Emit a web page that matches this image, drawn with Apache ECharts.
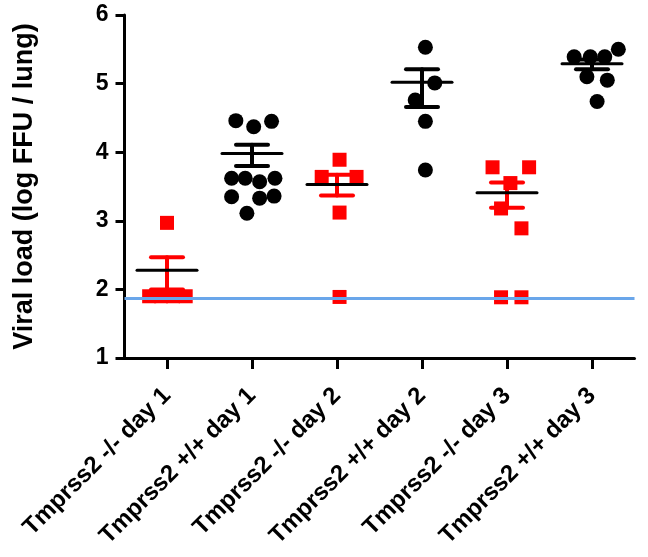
<!DOCTYPE html>
<html>
<head>
<meta charset="utf-8">
<script src="https://cdn.jsdelivr.net/npm/echarts@6/dist/echarts.min.js"></script>
<style>html,body{margin:0;padding:0;background:#fff;}#c{width:648px;height:557px;}</style>
</head>
<body>
<div id="c"></div>
<script>
const categories = ['Tmprss2 -/- day 1', 'Tmprss2 +/+ day 1', 'Tmprss2 -/- day 2', 'Tmprss2 +/+ day 2', 'Tmprss2 -/- day 3', 'Tmprss2 +/+ day 3'];
const yTicks = [1, 2, 3, 4, 5, 6];
const yName = 'Viral load (log FFU / lung)';

// individual animal values per group, with horizontal jitter (in category units)
const g1Values = [2.97, 1.9, 1.9, 1.9, 1.9];
const g1Jitter = [0, -0.21, -0.07, 0.07, 0.22];
const g2Values = [4.46, 4.37, 4.45, 3.62, 3.62, 3.57, 3.62, 3.35, 3.33, 3.36, 3.11];
const g2Jitter = [-0.19, 0.02, 0.23, -0.24, -0.08, 0.09, 0.27, -0.24, 0.09, 0.26, -0.06];
const g3Values = [3.89, 3.64, 3.64, 3.12, 1.89];
const g3Jitter = [0.03, -0.18, 0.23, 0.03, 0.03];
const g4Values = [5.53, 5.01, 4.76, 4.45, 3.74];
const g4Jitter = [0.04, 0.15, -0.08, 0.04, 0.04];
const g5Values = [3.78, 3.78, 3.55, 3.18, 2.89, 1.885, 1.885];
const g5Jitter = [-0.17, 0.26, 0.04, -0.07, 0.17, -0.07, 0.17];
const g6Values = [5.5, 5.39, 5.39, 5.39, 5.10, 5.05, 4.74];
const g6Jitter = [0.31, -0.21, -0.02, 0.15, -0.06, 0.18, 0.06];

// mean and error bar ends per group
const meanValues = [2.28, 3.98, 3.53, 5.02, 3.41, 5.29];
const errLow = [2.0, 3.80, 3.37, 4.66, 3.19, 5.21];
const errHigh = [2.47, 4.11, 3.67, 5.21, 3.56, 5.35];

// limit of detection
const lod = 1.87;

const RED = '#ff0000', BLACK = '#000000', BLUE = '#6aa6ea';
const FONT = "'Liberation Sans', Arial, sans-serif";

function pts(groupIdx, values, jitter) {
  return values.map((v, k) => [groupIdx + jitter[k], v]);
}
const redPoints = [].concat(pts(0, g1Values, g1Jitter), pts(2, g3Values, g3Jitter), pts(4, g5Values, g5Jitter));
const blackPoints = [].concat(pts(1, g2Values, g2Jitter), pts(3, g4Values, g4Jitter), pts(5, g6Values, g6Jitter));
const errData = meanValues.map((m, i) => [i, m, errLow[i], errHigh[i]]);

const chart = echarts.init(document.getElementById('c'), null, {renderer: 'canvas'});
chart.setOption({
  animation: false,
  backgroundColor: '#fff',
  grid: {left: 124.5, right: 13.5, top: 15, bottom: 199, containLabel: false, outerBoundsMode: 'none'},
  xAxis: [{
    type: 'category',
    data: categories,
    boundaryGap: true,
    axisLine: {show: true, onZero: false, lineStyle: {color: BLACK, width: 3}},
    axisTick: {show: true, alignWithLabel: true, length: 11, lineStyle: {color: BLACK, width: 3}},
    axisLabel: {rotate: 45, margin: 34, color: BLACK, fontWeight: 'bold', fontSize: 24, fontFamily: FONT, interval: 0},
    splitLine: {show: false}
  }, {
    type: 'value', min: -0.5, max: 5.5, show: false
  }],
  yAxis: {
    type: 'value', min: yTicks[0], max: yTicks[yTicks.length - 1], interval: 1,
    name: yName, nameLocation: 'middle', nameGap: 86, nameRotate: 90,
    nameTextStyle: {color: BLACK, fontWeight: 'bold', fontSize: 27, fontFamily: FONT},
    axisLine: {show: true, onZero: false, lineStyle: {color: BLACK, width: 3}},
    axisTick: {show: true, length: 9, lineStyle: {color: BLACK, width: 3}},
    axisLabel: {margin: 16, color: BLACK, fontWeight: 'bold', fontSize: 23, fontFamily: FONT},
    splitLine: {show: false}
  },
  series: [{
    type: 'scatter', xAxisIndex: 1, data: redPoints, symbol: 'rect', symbolSize: 14,
    itemStyle: {color: RED, opacity: 1}, z: 2
  }, {
    type: 'scatter', xAxisIndex: 1, data: blackPoints, symbol: 'circle', symbolSize: 15,
    itemStyle: {color: BLACK, opacity: 1}, z: 2
  }, {
    type: 'custom', xAxisIndex: 1, data: errData, z: 3,
    renderItem: function (params, api) {
      const i = api.value(0);
      const pm = api.coord([i, api.value(1)]);
      const pl = api.coord([i, api.value(2)]);
      const ph = api.coord([i, api.value(3)]);
      const col = (i % 2 === 0) ? RED : BLACK;
      const capW = 16, meanW = 30;
      const st = {stroke: col, lineWidth: 4, lineCap: 'round'};
      return {type: 'group', children: [
        {type: 'line', shape: {x1: pl[0], y1: pl[1], x2: ph[0], y2: ph[1]}, style: st},
        {type: 'line', shape: {x1: ph[0] - capW, y1: ph[1], x2: ph[0] + capW, y2: ph[1]}, style: st},
        {type: 'line', shape: {x1: pl[0] - capW, y1: pl[1], x2: pl[0] + capW, y2: pl[1]}, style: st},
        {type: 'line', shape: {x1: pm[0] - meanW, y1: pm[1], x2: pm[0] + meanW, y2: pm[1]}, style: {stroke: BLACK, lineWidth: 3, lineCap: 'round'}}
      ]};
    }
  }, {
    type: 'line', xAxisIndex: 1, data: [], z: 4,
    markLine: {silent: true, symbol: 'none', label: {show: false},
      lineStyle: {color: BLUE, width: 3, type: 'solid'},
      data: [{yAxis: lod}]}
  }]
});
</script>
</body>
</html>
